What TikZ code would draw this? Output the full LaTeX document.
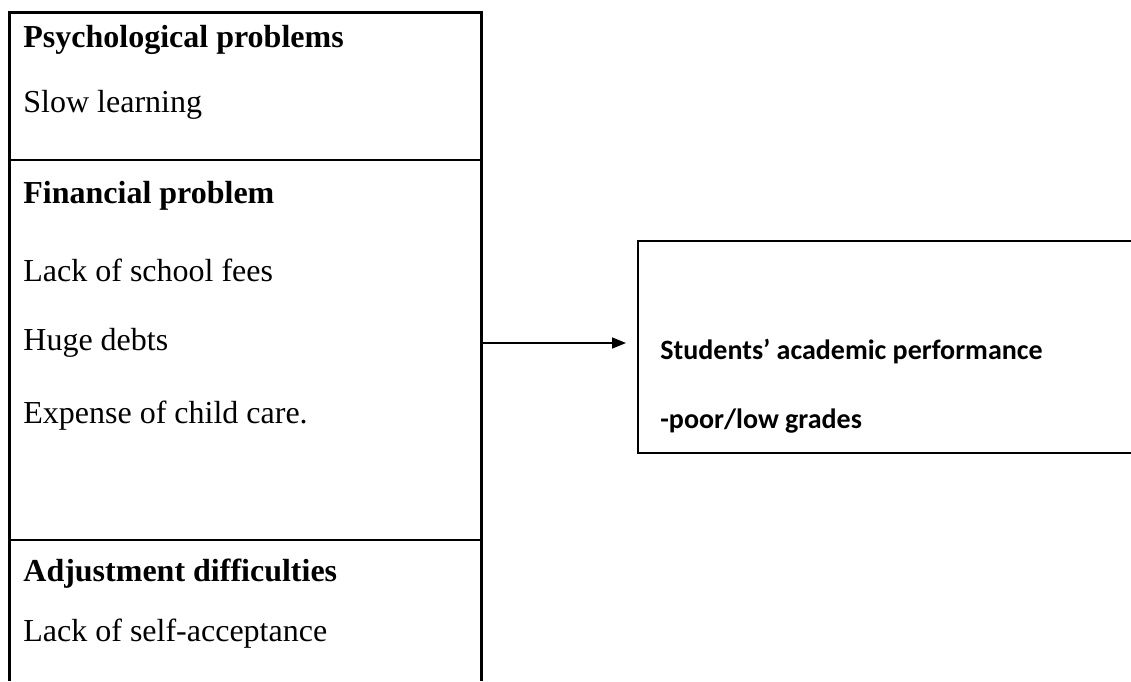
\documentclass[tikz,border=0pt]{standalone}
\usepackage{fontspec}
\setmainfont{Liberation Serif}
\newfontfamily\calfont{Carlito}
\usepackage{tikz}
\usetikzlibrary{arrows.meta, positioning}

\tikzset{
  item/.style={anchor=west, inner sep=0pt, font=\fontsize{16}{18}\selectfont},
  head/.style={item, font=\fontsize{16}{18}\selectfont\bfseries},
  outtext/.style={anchor=west, inner sep=0pt, font=\calfont\fontsize{14}{16}\selectfont\bfseries},
}

\begin{document}
\begin{tikzpicture}[x=0.5pt, y=-0.5pt, >={Triangle[length=7pt,width=5.5pt]}]
      \useasboundingbox (0,0) rectangle (1131,681);

      % left box, open at the bottom
      \draw[line width=1.5pt] (9,681) -- (9,12) -- (481,12) -- (481,681);
      \draw[line width=1pt] (9,160) -- (481,160);
      \draw[line width=1pt] (9,540) -- (481,540);

      \node[head] (psy) at (23,40) {Psychological problems};
      \node[item] (slow) at (23,105) {Slow learning};

      \node[head] (fin) at (23,196) {Financial problem};
      \node[item] (fees) at (23,270) {Lack of school fees};
      \node[item] (debts) at (23,343) {Huge debts};
      \node[item] (care) at (23,416) {Expense of child care.};

      \node[head] (adj) at (23,574) {Adjustment difficulties};
      \node[item] (self) at (23,634) {Lack of self-acceptance};

      % right box, open at the right
      \draw[line width=1pt] (1131,241) -- (638,241) -- (638,453) -- (1131,453);
      \node[outtext] (perf) at (660,352) {Students’ academic performance};
      \node[outtext] (grades) at (660,421) {-poor/low grades};

      \coordinate (src) at (481,343);
      \coordinate (dst) at (626,343);
      \draw[->, line width=0.8pt] (src) -- (dst);
  \end{tikzpicture}
\end{document}
